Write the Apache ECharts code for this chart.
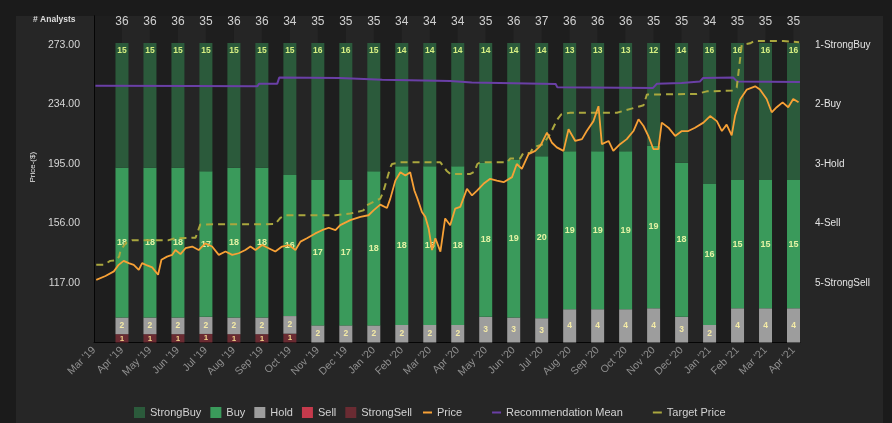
<!DOCTYPE html>
<html>
<head>
<meta charset="utf-8">
<script src="https://cdn.jsdelivr.net/npm/echarts@6.0.0/dist/echarts.min.js"></script>
<style>
  html, body { margin: 0; padding: 0; background: #1b1b1b; overflow: hidden; }
  #panel { position: absolute; left: 16px; top: 16px; width: 867px; height: 407px; background: #262626; }
  #chart { position: absolute; left: 0; top: 0; width: 892px; height: 423px; }
</style>
</head>
<body>
<div id="panel"></div>
<div id="chart"></div>
<script>
const FONT = '"Liberation Sans", Arial, sans-serif';

// x labels, one per month tick (month index 0 = Mar '19)
const MONTHS = ["Mar '19", "Apr '19", "May '19", "Jun '19", "Jul '19", "Aug '19", "Sep '19", "Oct '19",
  "Nov '19", "Dec '19", "Jan '20", "Feb '20", "Mar '20", "Apr '20", "May '20", "Jun '20", "Jul '20",
  "Aug '20", "Sep '20", "Oct '20", "Nov '20", "Dec '20", "Jan '21", "Feb '21", "Mar '21", "Apr '21"];

// analyst counts per month, Apr '19 .. Apr '21 (month index 1..25)
const STRONG_BUY = [15, 15, 15, 15, 15, 15, 15, 16, 16, 15, 14, 14, 14, 14, 14, 14, 13, 13, 13, 12, 14, 16, 16, 16, 16];
const BUY = [18, 18, 18, 17, 18, 18, 16, 17, 17, 18, 18, 18, 18, 18, 19, 20, 19, 19, 19, 19, 18, 16, 15, 15, 15];
const HOLD = [2, 2, 2, 2, 2, 2, 2, 2, 2, 2, 2, 2, 2, 3, 3, 3, 4, 4, 4, 4, 3, 2, 4, 4, 4];
const SELL = [0, 0, 0, 0, 0, 0, 0, 0, 0, 0, 0, 0, 0, 0, 0, 0, 0, 0, 0, 0, 0, 0, 0, 0, 0];
const STRONG_SELL = [1, 1, 1, 1, 1, 1, 1, 0, 0, 0, 0, 0, 0, 0, 0, 0, 0, 0, 0, 0, 0, 0, 0, 0, 0];

// [month index, $]
const PRICE = [
  [0.08, 119.1], [0.41, 121.6], [0.71, 124.6], [0.88, 128.9], [1.06, 131.5], [1.24, 130.0], [1.42, 128.9],
  [1.60, 125.6], [1.72, 130.0], [1.90, 128.5], [2.08, 127.2], [2.29, 122.4], [2.41, 132.2], [2.61, 134.3],
  [2.79, 135.4], [2.91, 138.6], [3.09, 135.9], [3.27, 139.8], [3.51, 140.9], [3.74, 138.6], [3.98, 143.0],
  [4.22, 140.9], [4.46, 135.4], [4.70, 137.6], [4.94, 135.4], [5.17, 136.5], [5.41, 138.6], [5.59, 140.9],
  [5.77, 138.6], [6.01, 141.9], [6.24, 139.8], [6.48, 137.6], [6.72, 140.9], [6.96, 141.9], [7.20, 138.6],
  [7.38, 144.1], [7.61, 146.3], [7.91, 149.5], [8.15, 151.6], [8.39, 153.2], [8.63, 151.6], [8.80, 154.9],
  [9.16, 158.2], [9.52, 160.4], [9.81, 161.4], [9.99, 164.6], [10.23, 168.4], [10.47, 166.2], [10.59, 172.3],
  [10.77, 184.1], [10.95, 189.6], [11.13, 187.4], [11.30, 189.6], [11.45, 177.6], [11.56, 172.3], [11.72, 163.6],
  [11.84, 160.4], [11.96, 152.8], [12.08, 138.6], [12.20, 146.3], [12.38, 137.6], [12.55, 159.3], [12.73, 154.9],
  [12.91, 165.8], [13.09, 166.9], [13.33, 178.8], [13.51, 174.4], [13.69, 177.6], [13.92, 182.0], [14.16, 185.3],
  [14.40, 184.1], [14.64, 183.1], [14.94, 186.4], [15.11, 195.0], [15.29, 191.8], [15.53, 201.5], [15.77, 203.6],
  [15.95, 206.9], [16.19, 215.6], [16.36, 209.1], [16.54, 205.9], [16.78, 203.6], [16.96, 217.8], [17.20, 210.1],
  [17.44, 211.3], [17.61, 216.6], [17.85, 223.1], [18.03, 232.9], [18.15, 208.0], [18.39, 210.1], [18.56, 203.6],
  [18.80, 208.0], [19.04, 211.3], [19.28, 216.6], [19.46, 224.3], [19.64, 219.9], [19.81, 213.4], [19.99, 204.8],
  [20.17, 204.8], [20.29, 222.1], [20.53, 218.8], [20.77, 213.4], [21.01, 216.6], [21.24, 216.6], [21.48, 218.8],
  [21.78, 222.1], [22.02, 226.4], [22.26, 223.1], [22.44, 216.6], [22.61, 220.8], [22.79, 213.8], [22.91, 226.4],
  [23.09, 237.3], [23.33, 243.8], [23.63, 245.9], [23.80, 243.8], [24.04, 237.6], [24.22, 228.9], [24.40, 232.2],
  [24.61, 235.4], [24.81, 232.2], [24.99, 237.6], [25.18, 235.4]
];

// [month index, $]
const TARGET = [
  [0.08, 128.9], [0.35, 128.9], [0.58, 131.5], [0.80, 131.8], [0.90, 134.4], [0.95, 138.6], [1.15, 143.5],
  [1.37, 145.1], [2.67, 145.1], [2.91, 146.3], [3.63, 146.7], [3.80, 155.4], [6.48, 155.6], [6.66, 159.7],
  [6.84, 161.4], [8.63, 161.4], [9.16, 162.5], [9.63, 164.6], [9.75, 168.0], [10.23, 172.3], [10.34, 176.8],
  [10.59, 192.8], [10.65, 195.0], [10.95, 196.1], [12.38, 196.1], [12.60, 190.6], [12.73, 188.5], [13.45, 188.5],
  [13.60, 190.0], [13.70, 195.0], [13.80, 196.1], [14.76, 196.1], [14.88, 198.6], [15.23, 198.6], [15.34, 202.2],
  [15.59, 202.2], [15.70, 205.9], [16.05, 208.0], [16.30, 214.5], [16.55, 224.0], [16.70, 227.5], [17.02, 228.6],
  [18.69, 228.6], [19.52, 232.9], [19.64, 233.5], [19.76, 240.5], [21.54, 240.9], [21.90, 242.6], [22.85, 243.1],
  [22.97, 245.0], [23.15, 273.0], [23.45, 274.1], [23.60, 275.6], [24.64, 275.6], [25.20, 274.8]
];

// [month index, mean rating 1..5]
const REC_MEAN = [
  [0.05, 1.683], [3.50, 1.688], [5.84, 1.695], [5.90, 1.650], [6.55, 1.650], [6.62, 1.548], [8.78, 1.555],
  [8.82, 1.583], [10.30, 1.585], [10.36, 1.602], [12.73, 1.605], [13.50, 1.630], [16.50, 1.655], [16.56, 1.712],
  [19.98, 1.722], [20.12, 1.650], [21.00, 1.640], [21.66, 1.612], [21.77, 1.555], [22.84, 1.545], [22.98, 1.612],
  [25.23, 1.622]
];

const REC_LABELS = ['1-StrongBuy', '2-Buy', '3-Hold', '4-Sell', '5-StrongSell'];

const TOTALS = STRONG_BUY.map((v, i) => v + BUY[i] + HOLD[i] + SELL[i] + STRONG_SELL[i]);

const X_MAX = 25.232;
const P_MIN = 78, P_MAX = 292, P_STEP = 39;

// share of analysts first, month second, so the stack runs on the share
function barSeries(name, counts, color, label) {
  return {
    name,
    type: 'bar',
    stack: 'analysts',
    xAxisIndex: 0,
    yAxisIndex: 3,
    barWidth: 13,
    clip: false,
    encode: { x: 1, y: 0 },
    itemStyle: { color },
    label: Object.assign({
      show: true,
      position: 'inside',
      fontFamily: FONT,
      fontSize: 8.5,
      fontWeight: 'bold',
      formatter: p => counts[p.dataIndex] > 0 ? String(counts[p.dataIndex]) : '',
    }, label),
    data: counts.map((c, i) => [c / TOTALS[i] * 100, i + 1]),
  };
}

const LINE_ICON = 'path://M0,0h9v2h-9z';

const chart = echarts.init(document.getElementById('chart'), null, { renderer: 'canvas' });

chart.setOption({
  animation: false,
  backgroundColor: 'transparent',
  textStyle: { fontFamily: FONT },
  title: {
    text: '# Analysts',
    left: 28,
    top: 10,
    textStyle: { color: '#dcdcdc', fontSize: 8.5, fontWeight: 'bold', fontFamily: FONT },
  },
  grid: { left: 94, right: 92, top: 16, bottom: 80.5 },
  legend: [{
    left: 129,
    top: 402,
    itemWidth: 11,
    itemHeight: 11,
    itemGap: 9,
    textStyle: { color: '#d2d2d2', fontSize: 11, fontFamily: FONT },
    data: [
      { name: 'StrongBuy', icon: 'rect' },
      { name: 'Buy', icon: 'rect' },
      { name: 'Hold', icon: 'rect' },
      { name: 'Sell', icon: 'rect' },
      { name: 'StrongSell', icon: 'rect' },
    ],
  }, {
    left: 418,
    top: 402,
    itemWidth: 9,
    itemHeight: 11,
    itemGap: 30,
    textStyle: { color: '#d2d2d2', fontSize: 11, fontFamily: FONT },
    data: [
      { name: 'Price', icon: LINE_ICON },
      { name: 'Recommendation Mean', icon: LINE_ICON },
      { name: 'Target Price', icon: LINE_ICON },
    ],
  }],
  xAxis: [{
    type: 'value',
    min: 0,
    max: X_MAX,
    interval: 1,
    axisLine: { show: true, onZero: false, lineStyle: { color: '#050505', width: 1 } },
    axisTick: { show: false },
    splitLine: { show: false },
    splitArea: { show: true, areaStyle: { color: ['#1e1e1e', '#252525'] } },
    axisLabel: {
      rotate: 45,
      color: '#8f8f8f',
      fontSize: 10.5,
      margin: 6,
      showMaxLabel: false,
      formatter: v => MONTHS[v] || '',
    },
  }, {
    type: 'value',
    position: 'top',
    min: 0,
    max: X_MAX,
    interval: 1,
    axisLine: { show: false, onZero: false },
    axisTick: { show: false },
    splitLine: { show: false },
    axisLabel: {
      inside: true,
      margin: 0,
      color: '#d0d0d0',
      fontSize: 12,
      verticalAlign: 'top',
      showMaxLabel: false,
      formatter: v => (v >= 1 && v <= TOTALS.length) ? String(TOTALS[v - 1]) : '',
    },
  }],
  yAxis: [{
    type: 'value',
    position: 'left',
    min: P_MIN,
    max: P_MAX,
    interval: P_STEP,
    name: 'Price-($)',
    nameLocation: 'middle',
    nameGap: 56,
    nameTextStyle: { color: '#e6e6e6', fontSize: 8, padding: [0, 0, 0, 24] },
    axisLine: { show: true, lineStyle: { color: '#050505' } },
    axisTick: { show: false },
    splitLine: { show: false },
    axisLabel: {
      color: '#d6d6d6',
      fontSize: 10.5,
      margin: 14,
      showMinLabel: false,
      showMaxLabel: false,
      formatter: v => v.toFixed(2),
    },
  }, {
    type: 'value',
    position: 'right',
    min: P_MIN,
    max: P_MAX,
    interval: P_STEP,
    axisLine: { show: true, lineStyle: { color: '#050505' } },
    axisTick: { show: false },
    splitLine: { show: false },
    axisLabel: {
      color: '#e2e2e2',
      fontSize: 10,
      margin: 15,
      showMinLabel: false,
      showMaxLabel: false,
      formatter: v => REC_LABELS[Math.round((273 - v) / P_STEP)] || '',
    },
  }, {
    type: 'value',
    show: false,
    inverse: true,
    min: 1 - (P_MAX - 273) / P_STEP,
    max: 1 + (273 - P_MIN) / P_STEP,
  }, {
    type: 'value',
    show: false,
    min: 0,
    max: 109,
  }],
  series: [
    barSeries('StrongSell', STRONG_SELL, '#6a2b32', { color: '#f3d58c', fontSize: 8 }),
    barSeries('Sell', SELL, '#c53a4c', { color: '#f3e6a0' }),
    barSeries('Hold', HOLD, '#9d9d9d', { color: '#f4eaa6' }),
    barSeries('Buy', BUY, '#3a9a5b', { color: '#e2f2a4', fontSize: 9 }),
    barSeries('StrongBuy', STRONG_BUY, '#2b5a3b', { color: '#d6ee82', position: 'insideTop', distance: 3 }),
    {
      name: 'Price',
      type: 'line',
      xAxisIndex: 0,
      yAxisIndex: 0,
      symbol: 'none',
      lineStyle: { color: '#f7a136', width: 1.8 },
      itemStyle: { color: '#f7a136' },
      data: PRICE,
      z: 4,
    },
    {
      name: 'Recommendation Mean',
      type: 'line',
      xAxisIndex: 0,
      yAxisIndex: 2,
      symbol: 'none',
      lineStyle: { color: '#6a3fa6', width: 2 },
      itemStyle: { color: '#6a3fa6' },
      data: REC_MEAN,
      z: 3,
    },
    {
      name: 'Target Price',
      type: 'line',
      xAxisIndex: 0,
      yAxisIndex: 0,
      symbol: 'none',
      clip: false,
      lineStyle: { color: '#aaa73e', width: 2, type: [7, 5] },
      itemStyle: { color: '#aaa73e' },
      data: TARGET,
      z: 3,
    },
  ],
});
</script>
</body>
</html>
